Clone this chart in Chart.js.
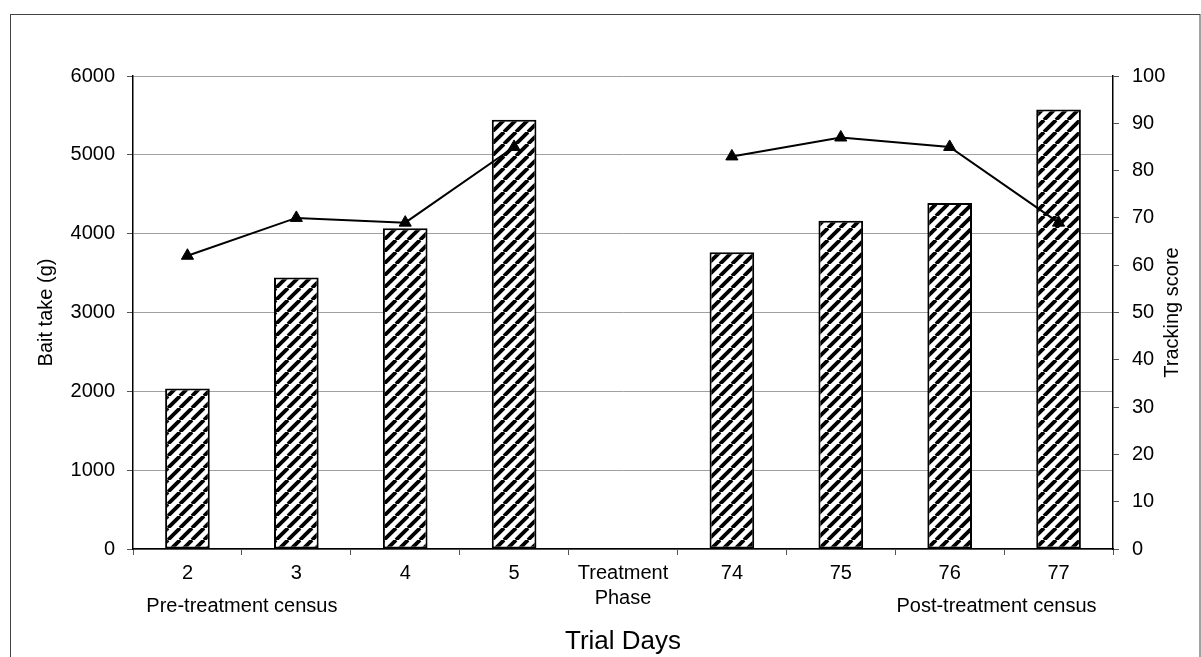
<!DOCTYPE html>
<html>
<head>
<meta charset="utf-8">
<title>Bait take and tracking score by trial day</title>
<script src="https://cdn.jsdelivr.net/npm/chart.js@4.4.1/dist/chart.umd.min.js"></script>
<style>
  html, body { margin: 0; padding: 0; background: #fff; }
  canvas { display: block; }
</style>
</head>
<body>
<canvas id="chart" width="1201" height="657"></canvas>
<script>
// Trial days (the treatment phase has no census)
const trialDays = ['2', '3', '4', '5', ['Treatment', 'Phase'], '74', '75', '76', '77'];
// Bait take in grams
const baitTake = [2035, 3445, 4070, 5445, null, 3765, 4165, 4390, 5575];
// Tracking score
const trackingScore = [62, 70, 69, 85, null, 83, 87, 85, 69];
// Census group labels under the day labels
const censusGroups = ['Pre-treatment census', 'Post-treatment census'];

const FONT = "'Liberation Sans', Arial, sans-serif";

function hatchPattern() {
  const s = 12;
  const c = document.createElement('canvas');
  c.width = s; c.height = s;
  const g = c.getContext('2d');
  g.fillStyle = '#fff';
  g.fillRect(0, 0, s, s);
  g.strokeStyle = '#000';
  g.lineWidth = 3.8;
  for (const o of [-s, 0, s]) {
    g.beginPath();
    g.moveTo(o, s);
    g.lineTo(o + s, 0);
    g.stroke();
  }
  return g.createPattern(c, 'repeat');
}

const frameAndText = {
  id: 'frameAndText',
  beforeDraw(chart) {
    const ctx = chart.ctx;
    ctx.save();
    ctx.fillStyle = '#fff';
    ctx.fillRect(0, 0, chart.width, chart.height);
    ctx.strokeStyle = '#444';
    ctx.lineWidth = 1;
    ctx.strokeRect(10.5, 14.5, chart.width - 11.5, chart.height + 20);
    ctx.restore();
  },
  afterDraw(chart) {
    const ctx = chart.ctx;
    const x = chart.scales.x;
    const area = chart.chartArea;
    const midY = (area.top + area.bottom) / 2;
    ctx.save();
    ctx.fillStyle = '#000';
    ctx.textAlign = 'center';
    ctx.textBaseline = 'alphabetic';
    ctx.font = '20px ' + FONT;
    ctx.fillText(censusGroups[0], x.getPixelForValue(0.5), 612);
    ctx.fillText(censusGroups[1], x.getPixelForValue(7.43), 612);

    ctx.font = '26px ' + FONT;
    ctx.fillText('Trial Days', (area.left + area.right) / 2, 649);

    ctx.font = '20px ' + FONT;
    ctx.textBaseline = 'middle';
    ctx.translate(46, midY);
    ctx.rotate(-Math.PI / 2);
    ctx.fillText('Bait take (g)', 0, 0);
    ctx.restore();

    ctx.save();
    ctx.fillStyle = '#000';
    ctx.font = '20px ' + FONT;
    ctx.textAlign = 'center';
    ctx.textBaseline = 'middle';
    ctx.translate(1172, midY);
    ctx.rotate(-Math.PI / 2);
    ctx.fillText('Tracking score', 0, 0);
    ctx.restore();
  }
};

const tickFont = { family: FONT, size: 20, lineHeight: 1.25 };
const plainNumber = (v) => String(v);

new Chart(document.getElementById('chart'), {
  type: 'bar',
  data: {
    labels: trialDays,
    datasets: [
      {
        type: 'line',
        label: 'Tracking score',
        data: trackingScore,
        yAxisID: 'y1',
        borderColor: '#000',
        borderWidth: 2,
        pointStyle: 'triangle',
        pointRadius: 7,
        pointBackgroundColor: '#000',
        pointBorderColor: '#000',
        pointBorderWidth: 1,
        spanGaps: false,
        tension: 0,
        order: 0
      },
      {
        type: 'bar',
        label: 'Bait take (g)',
        data: baitTake,
        yAxisID: 'y',
        backgroundColor: hatchPattern(),
        borderColor: '#000',
        borderWidth: 2,
        borderSkipped: false,
        categoryPercentage: 1,
        barPercentage: 0.41,
        order: 1
      }
    ]
  },
  options: {
    responsive: false,
    animation: false,
    devicePixelRatio: 1,
    layout: { padding: { top: 76, left: 0, right: 0, bottom: 0 } },
    plugins: {
      legend: { display: false },
      tooltip: { enabled: false },
      title: { display: false }
    },
    scales: {
      x: {
        grid: {
          display: true,
          drawOnChartArea: false,
          drawTicks: true,
          tickLength: 6,
          tickColor: '#555',
          offset: true
        },
        border: { display: true, color: '#000', width: 1.5 },
        ticks: {
          color: '#000',
          font: tickFont,
          padding: 6,
          maxRotation: 0,
          autoSkip: false
        },
        afterFit(scale) { scale.height = 108; }
      },
      y: {
        position: 'left',
        min: 0,
        max: 6000,
        grid: {
          color: '#a0a0a0',
          lineWidth: 1,
          drawTicks: true,
          tickLength: 6,
          tickColor: '#555'
        },
        border: { display: true, color: '#000', width: 1.5 },
        ticks: {
          stepSize: 1000,
          color: '#000',
          font: tickFont,
          padding: 12,
          callback: plainNumber
        },
        afterFit(scale) { scale.width = 133; }
      },
      y1: {
        position: 'right',
        min: 0,
        max: 100,
        grid: {
          drawOnChartArea: false,
          drawTicks: true,
          tickLength: 6,
          tickColor: '#555'
        },
        border: { display: true, color: '#000', width: 1.5 },
        ticks: {
          stepSize: 10,
          color: '#000',
          font: tickFont,
          padding: 13,
          callback: plainNumber
        },
        afterFit(scale) { scale.width = 88; }
      }
    }
  },
  plugins: [frameAndText]
});
</script>
</body>
</html>
